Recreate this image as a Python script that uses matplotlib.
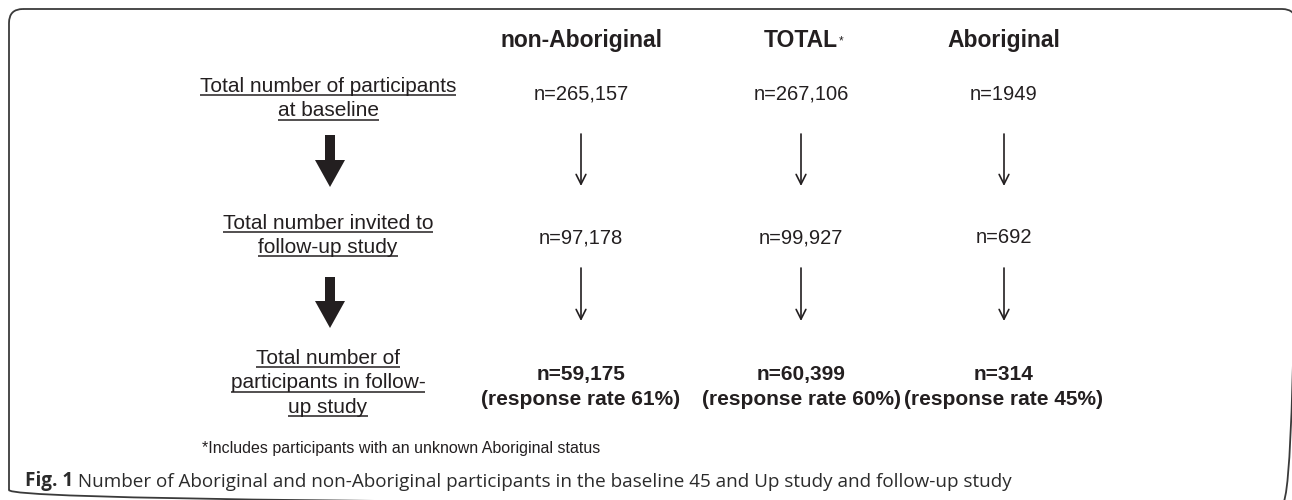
import matplotlib
matplotlib.use("Agg")
import matplotlib.pyplot as plt
from matplotlib.patches import FancyBboxPatch, FancyArrow

# ---------------- data ----------------
columns = ["non-Aboriginal", "TOTAL", "Aboriginal"]
column_marks = ["", "*", ""]
baseline_n = [265157, 267106, 1949]
invited_n = [97178, 99927, 692]
followup_n = [59175, 60399, 314]
response_rate = [61, 60, 45]
stage_labels = [
    ["Total number of participants", "at baseline"],
    ["Total number invited to", "follow-up study"],
    ["Total number of", "participants in follow-", "up study"],
]
footnote = "*Includes participants with an unknown Aboriginal status"
caption_label = "Fig. 1"
caption_text = ("Number of Aboriginal and non-Aboriginal participants in the "
                "baseline 45 and Up study and follow-up study")


def fmt(n):
    return f"n={n:,}" if n >= 10000 else f"n={n}"


# ---------------- layout ----------------
W, H = 1292, 500
fig = plt.figure(figsize=(W / 100, H / 100), dpi=100)
ax = fig.add_axes([0, 0, 1, 1])
ax.set_xlim(0, W)
ax.set_ylim(H, 0)
ax.axis("off")

FONT = ["Liberation Sans", "DejaVu Sans"]
CAP_FONT = ["Open Sans", "DejaVu Sans"]
ink = "#231f20"

col_x = [581, 801, 1004]
label_x = 328
header_base = 47
label_bases = [[92, 116.5], [229, 253], [364, 388.5, 413]]
value_bases = [100, 243]
final_bases = [380, 405]
thick_arrows = [(135, 187), (277, 328)]
thin_arrows = [(134, 186), (268, 321)]

# rounded frame (right and bottom edges fall just outside the picture)
ax.add_patch(FancyBboxPatch((9, 9), W - 9 + 4, H - 9 + 4,
                            boxstyle="round,pad=0,rounding_size=14",
                            fc="none", ec="#3a3a3a", lw=1.3))

# column headers
for x, name, mark in zip(col_x, columns, column_marks):
    t = ax.text(x, header_base, name, ha="center", va="baseline",
                fontsize=16.5, fontweight="bold", family=FONT, color=ink)
    if mark:
        ax.annotate(mark, xy=(1, 0.45), xycoords=t, xytext=(0.3, 0),
                    textcoords="offset points", ha="left", va="center",
                    fontsize=8.5, family=FONT, color=ink)

# stage labels (underlined)
label_texts = []
for lines, bases in zip(stage_labels, label_bases):
    for line, yb in zip(lines, bases):
        t = ax.text(label_x, yb, line, ha="center", va="baseline",
                    fontsize=15, family=FONT, color=ink)
        label_texts.append((t, yb))

# values rows 1 and 2
for row, yb in zip([baseline_n, invited_n], value_bases):
    for x, v in zip(col_x, row):
        ax.text(x, yb, fmt(v), ha="center", va="baseline",
                fontsize=14.5, family=FONT, color=ink)

# final row (bold)
for x, v, r in zip(col_x, followup_n, response_rate):
    ax.text(x, final_bases[0], fmt(v), ha="center", va="baseline",
            fontsize=15, fontweight="bold", family=FONT, color=ink)
    ax.text(x, final_bases[1], f"(response rate {r}%)", ha="center",
            va="baseline", fontsize=15, fontweight="bold", family=FONT,
            color=ink)

# thick arrows (left)
for y0, y1 in thick_arrows:
    ax.add_patch(FancyArrow(label_x + 2, y0, 0, y1 - y0, width=10,
                            head_width=30, head_length=27,
                            length_includes_head=True, color=ink, lw=0))

# thin arrows (columns)
for y0, y1 in thin_arrows:
    for x in col_x:
        ax.annotate("", xy=(x, y1), xytext=(x, y0),
                    arrowprops=dict(arrowstyle="->,head_length=0.7,head_width=0.35",
                                    lw=1.2, color=ink, shrinkA=0, shrinkB=0))

# footnote
ax.text(401, 453, footnote, ha="center", va="baseline", fontsize=11.5,
        family=FONT, color=ink)

# caption
cap_color = "#2b2b2b"
cap = ax.text(25, 486, caption_label, ha="left", va="baseline", fontsize=13.6,
              fontweight="bold", family=CAP_FONT, color=cap_color)
ax.annotate(" " + caption_text, xy=(1, 0), xycoords=cap, xytext=(0, 0),
            textcoords="offset points", ha="left", va="bottom", fontsize=13.6,
            family=CAP_FONT, color=cap_color)

# underlines from the rendered text extents
fig.canvas.draw()
inv = ax.transData.inverted()
for t, yb in label_texts:
    bb = t.get_window_extent()
    (x0, _), (x1, _) = inv.transform([[bb.x0, bb.y0], [bb.x1, bb.y1]])
    ax.plot([x0, x1], [yb + 3, yb + 3], color=ink, lw=1.1,
            solid_capstyle="butt")

fig.savefig("out.png", dpi=100)
